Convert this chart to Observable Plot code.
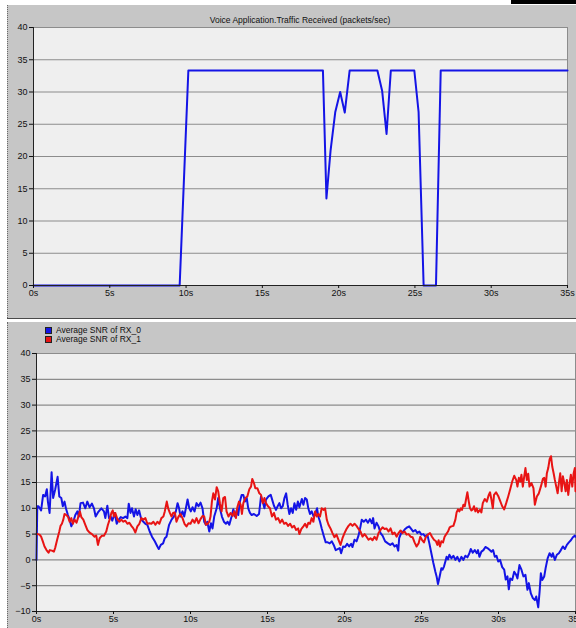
<!DOCTYPE html>
<html>
<head>
<meta charset="utf-8">
<script src="https://cdn.jsdelivr.net/npm/d3@7"></script>
<script src="https://cdn.jsdelivr.net/npm/@observablehq/plot@0.6"></script>
<style>
  html, body { margin: 0; padding: 0; background: #ffffff; }
  #wrap { position: relative; width: 576px; height: 628px; overflow: hidden; background: #ffffff; font-family: "Liberation Sans", Arial, sans-serif; }
  .panel { position: absolute; left: 7px; width: 569px; background: #c6c6c6; border-left: 1px dotted #6a6a6a; box-sizing: border-box; }
  .abs { position: absolute; }
  .title { position: absolute; top: 15px; left: 100px; width: 400px; text-align: center; font-size: 8.5px; color: #111; white-space: nowrap; }
  .leg { position: absolute; left: 45px; font-size: 8.5px; color: #111; white-space: nowrap; line-height: 8px; }
  .leg span.sw { display: inline-block; width: 5px; height: 5px; border: 1px solid #222; margin-right: 4px; vertical-align: -1px; }
</style>
</head>
<body>
<div id="wrap">
  <div class="panel" style="top:5px;height:313px;"></div>
  <div class="abs" style="left:7px;top:318px;width:569px;height:1px;background:#4a4a4a;"></div>
  <div class="abs" style="left:7px;top:320px;width:569px;height:2px;background:#ffffff;"></div>
  <div class="panel" style="top:322px;height:306px;"></div>
  <div class="abs" style="left:511px;top:0px;width:65px;height:4px;background:#000000;"></div>
  <div class="abs" id="top" style="left:0;top:0;"></div>
  <div class="abs" id="bottom" style="left:0;top:322px;"></div>
  <div class="title">Voice Application.Traffic Received (packets/sec)</div>
  <div class="leg" style="top:326px;"><span class="sw" style="background:#1414e6"></span>Average SNR of RX_0</div>
  <div class="leg" style="top:335px;"><span class="sw" style="background:#e81414"></span>Average SNR of RX_1</div>
</div>
<script>
// ---- data ----
const xTicks = [0, 5, 10, 15, 20, 25, 30, 35];
const yTicksTop = [0, 5, 10, 15, 20, 25, 30, 35, 40];
const yTicksBottom = [-10, -5, 0, 5, 10, 15, 20, 25, 30, 35, 40];

const seriesNames = ["Average SNR of RX_0", "Average SNR of RX_1"];

// Voice Application.Traffic Received (packets/sec): [time s, value]
const traffic = [
  [0, 0], [9.58, 0], [10.15, 33.33], [18.97, 33.33], [19.2, 13.5], [19.47, 20.9], [19.78, 26.9],
  [20.1, 30.0], [20.4, 26.8], [20.72, 33.33], [22.54, 33.33], [22.85, 30.2], [23.14, 23.5],
  [23.42, 33.33], [24.96, 33.33], [25.24, 26.9], [25.57, 0], [26.38, 0], [26.69, 33.33], [35, 33.33]
];

// Average SNR of RX_0: [time s, dB]
const rx0 = [
  [0,0],[0.05,10.4],[0.13,10.4],[0.3,9.6],[0.43,12.6],[0.56,12.3],[0.67,13.7],[0.74,11.3],[0.85,9.1],[0.98,17.0],[1.08,12.0],[1.21,13.6],[1.37,16.1],[1.48,12.3],[1.61,12.0],[1.71,10.4],[1.82,11.3],[1.91,10.0],[2.04,8.7],[2.15,7.8],[2.26,6.5],[2.39,7.4],[2.52,8.7],[2.65,9.4],[2.75,8.4],[2.86,11.0],[3.02,11.1],[3.17,10.0],[3.3,11.3],[3.45,10.2],[3.6,10.9],[3.73,10.0],[3.84,8.4],[3.99,9.2],[4.21,10.0],[4.38,9.4],[4.47,8.1],[4.6,10.5],[4.71,8.1],[4.82,8.4],[4.92,7.6],[5.08,9.1],[5.21,7.0],[5.34,7.8],[5.47,8.3],[5.62,8.1],[5.77,8.4],[5.9,8.1],[5.99,10.9],[6.1,9.1],[6.2,10.0],[6.33,8.4],[6.44,9.8],[6.55,8.7],[6.66,9.6],[6.81,7.8],[6.94,7.4],[7.07,7.0],[7.2,6.8],[7.35,5.5],[7.5,4.5],[7.68,3.6],[7.85,2.6],[7.94,2.1],[8.07,2.9],[8.22,3.2],[8.33,4.2],[8.44,4.5],
  [8.61,6.8],[8.77,7.8],[8.92,8.4],[9.05,9.4],[9.16,11.0],[9.26,10.0],[9.35,8.4],[9.48,9.4],[9.59,8.4],[9.7,10.0],[9.81,11.7],[9.92,10.0],[10.02,9.4],[10.13,10.2],[10.26,9.4],[10.39,11.0],[10.52,10.4],[10.65,11.1],[10.78,10.0],[10.89,7.4],[11.0,6.8],[11.09,7.4],[11.22,5.5],[11.33,7.1],[11.43,6.1],[11.54,8.4],[11.7,10.0],[11.8,12.0],[11.91,10.0],[12.04,8.4],[12.17,7.4],[12.3,7.0],[12.41,7.4],[12.52,6.8],[12.67,8.4],[12.78,9.8],[12.89,8.4],[13.0,9.6],[13.1,8.7],[13.21,11.3],[13.32,12.6],[13.43,12.6],[13.54,11.3],[13.65,12.0],[13.75,10.0],[13.86,9.1],[13.97,8.7],[14.12,8.9],[14.3,8.5],[14.45,8.9],[14.58,12.3],[14.69,11.3],[14.8,10.0],[14.9,11.7],[15.06,12.3],[15.21,12.6],[15.34,11.3],[15.42,10.5],[15.55,9.7],[15.66,10.4],[15.77,11.0],[15.88,10.0],[15.99,10.4],[16.1,12.0],[16.21,12.9],[16.31,10.7],[16.42,8.9],[16.53,10.0],[16.64,9.1],[16.75,11.0],[16.86,9.7],[16.97,11.3],[17.07,10.2],[17.23,11.8],
  [17.33,10.7],[17.44,12.0],[17.55,11.7],[17.65,10.0],[17.76,8.9],[17.87,9.4],[18.0,8.4],[18.13,9.2],[18.22,10.0],[18.3,8.4],[18.41,7.4],[18.52,6.1],[18.65,4.7],[18.78,3.4],[18.91,3.4],[19.04,3.2],[19.17,3.6],[19.3,2.9],[19.43,1.9],[19.56,2.1],[19.69,2.3],[19.78,1.3],[19.91,2.6],[20.04,2.5],[20.17,3.1],[20.3,2.6],[20.43,3.1],[20.52,2.5],[20.65,3.9],[20.78,3.6],[20.91,4.7],[21.04,6.5],[21.12,7.8],[21.25,7.4],[21.39,7.8],[21.52,7.2],[21.65,7.9],[21.78,7.1],[21.86,8.1],[21.95,6.1],[22.08,7.2],[22.21,6.5],[22.34,5.2],[22.47,4.7],[22.64,3.6],[22.82,3.2],[22.97,2.9],[23.12,3.2],[23.25,2.6],[23.38,2.9],[23.49,1.8],[23.55,4.2],[23.68,5.2],[23.81,5.5],[23.94,6.0],[24.07,6.3],[24.2,6.5],[24.33,6.0],[24.46,5.5],[24.6,5.8],[24.73,5.2],[24.86,5.5],[24.99,4.9],[25.12,5.0],[25.25,4.5],[25.38,4.9],[25.51,3.2],[25.64,1.3],[25.77,-0.6],[25.9,-2.3],[25.98,-3.2],[26.07,-4.7],
  [26.18,-3.2],[26.29,-1.6],[26.37,-1.9],[26.46,-1.3],[26.55,-0.3],[26.63,0.6],[26.72,0.1],[26.81,1.0],[26.94,0.3],[27.07,0.8],[27.2,0.0],[27.33,0.6],[27.46,-0.3],[27.59,0.6],[27.72,0.0],[27.85,0.8],[27.98,0.5],[28.11,1.3],[28.2,2.1],[28.33,1.4],[28.46,1.9],[28.59,1.3],[28.67,1.9],[28.76,0.6],[28.89,1.6],[29.02,1.9],[29.15,2.5],[29.28,2.3],[29.43,1.9],[29.54,1.6],[29.65,1.9],[29.76,0.6],[29.87,0.8],[29.98,-0.3],[30.1,0.0],[30.24,-1.4],[30.37,-1.9],[30.47,-3.8],[30.58,-3.2],[30.67,-5.7],[30.76,-3.6],[30.89,-3.9],[31.02,-2.3],[31.15,-2.9],[31.23,-3.6],[31.36,-1.0],[31.49,-1.9],[31.62,-3.2],[31.75,-2.9],[31.88,-5.8],[31.97,-4.5],[32.1,-6.5],[32.23,-7.4],[32.36,-7.8],[32.45,-7.1],[32.58,-9.2],[32.67,-6.1],[32.75,-2.6],[32.84,-3.9],[32.97,-3.2],[33.06,-1.6],[33.19,0.3],[33.32,1.3],[33.45,0.6],[33.53,1.3],[33.66,0.0],[33.79,1.0],[33.92,1.3],[34.05,1.9],[34.18,2.6],[34.31,2.1],[34.44,2.9],[34.57,3.4],[34.7,3.8],[34.83,4.4],[34.96,4.7],[35.0,4.5]
];

// Average SNR of RX_1: [time s, dB]
const rx1 = [
  [0,5.0],[0.04,5.0],[0.2,4.9],[0.3,4.5],[0.41,3.6],[0.52,2.6],[0.65,1.9],[0.78,1.4],[0.87,1.9],[1.0,1.8],[1.13,1.6],[1.21,2.3],[1.34,3.9],[1.48,5.5],[1.56,6.6],[1.65,7.0],[1.74,7.8],[1.82,8.9],[1.93,8.7],[2.04,8.4],[2.15,7.4],[2.26,8.1],[2.36,7.0],[2.47,7.8],[2.6,7.2],[2.69,8.1],[2.82,9.4],[2.91,8.3],[3.04,7.8],[3.17,6.8],[3.3,5.8],[3.45,5.3],[3.6,5.0],[3.77,4.5],[3.88,4.7],[3.99,2.9],[4.1,4.2],[4.25,4.7],[4.38,4.7],[4.53,5.5],[4.64,6.8],[4.75,7.8],[4.86,9.1],[4.95,9.6],[5.03,8.4],[5.12,9.1],[5.25,7.9],[5.38,7.4],[5.51,7.8],[5.64,7.4],[5.77,7.6],[5.9,7.0],[6.03,7.2],[6.16,6.6],[6.29,6.1],[6.42,5.3],[6.55,6.5],[6.68,7.0],[6.81,8.1],[6.94,7.8],[7.07,8.1],[7.2,7.0],[7.33,7.1],[7.46,7.0],[7.59,7.4],[7.72,6.8],[7.85,7.4],[7.98,7.0],[8.11,8.1],[8.24,8.4],[8.33,9.4],[8.46,11.3],
  [8.55,10.0],[8.66,9.1],[8.77,8.4],[8.87,9.1],[8.98,9.2],[9.09,7.4],[9.22,8.4],[9.35,8.9],[9.48,8.1],[9.61,7.0],[9.74,6.5],[9.87,7.1],[10.0,7.0],[10.13,7.8],[10.26,7.2],[10.39,8.1],[10.52,7.1],[10.65,7.9],[10.78,8.5],[10.89,8.4],[11.0,6.8],[11.11,7.0],[11.22,7.4],[11.3,8.4],[11.39,11.3],[11.48,12.9],[11.59,11.7],[11.7,14.1],[11.8,13.3],[11.91,11.0],[12.02,9.4],[12.13,12.0],[12.24,12.2],[12.34,9.4],[12.47,8.4],[12.6,9.1],[12.74,8.5],[12.84,9.4],[12.95,8.1],[13.04,10.2],[13.15,11.3],[13.26,10.7],[13.34,8.9],[13.43,11.0],[13.56,12.0],[13.69,12.3],[13.82,13.7],[13.93,14.2],[14.01,15.7],[14.12,14.9],[14.21,13.9],[14.34,13.9],[14.47,12.9],[14.58,12.6],[14.69,11.0],[14.8,12.0],[14.9,11.0],[15.03,10.4],[15.16,10.0],[15.29,8.4],[15.42,9.1],[15.55,7.8],[15.69,8.1],[15.82,7.2],[15.95,7.8],[16.08,7.0],[16.21,7.2],[16.34,6.6],[16.47,7.0],[16.6,6.3],[16.73,6.6],[16.86,5.8],[16.99,6.1],[17.07,5.0],[17.2,6.0],[17.33,6.5],
  [17.44,7.0],[17.55,6.3],[17.65,7.2],[17.76,7.0],[17.87,8.1],[17.98,7.4],[18.09,9.4],[18.2,8.4],[18.3,8.9],[18.41,8.4],[18.52,10.0],[18.65,9.7],[18.74,10.0],[18.85,7.8],[18.96,6.8],[19.09,6.1],[19.22,5.2],[19.35,4.4],[19.48,4.9],[19.61,3.9],[19.74,2.9],[19.87,4.2],[20.0,5.2],[20.13,6.0],[20.26,6.6],[20.39,7.0],[20.52,6.6],[20.65,7.0],[20.78,6.6],[20.91,6.0],[21.04,5.5],[21.17,4.5],[21.3,5.0],[21.43,4.5],[21.56,3.9],[21.69,4.2],[21.82,3.8],[21.95,4.5],[22.08,3.9],[22.21,5.2],[22.34,5.8],[22.47,6.3],[22.6,6.0],[22.73,6.1],[22.86,5.5],[22.99,6.1],[23.12,5.0],[23.25,5.3],[23.38,4.5],[23.51,5.2],[23.64,5.7],[23.77,5.2],[23.9,5.5],[24.03,4.9],[24.16,5.0],[24.29,4.5],[24.42,4.4],[24.55,3.4],[24.68,2.6],[24.81,3.2],[24.92,4.5],[25.03,3.9],[25.16,3.4],[25.29,4.5],[25.42,4.9],[25.55,5.2],[25.68,4.5],[25.81,3.9],[25.94,3.6],[26.03,2.9],[26.11,3.8],[26.2,2.6],
  [26.29,3.6],[26.4,3.4],[26.5,4.5],[26.61,5.0],[26.72,5.5],[26.83,6.3],[26.94,6.5],[27.07,6.6],[27.2,7.8],[27.28,9.2],[27.37,9.8],[27.46,9.4],[27.55,10.0],[27.63,9.7],[27.72,10.7],[27.81,10.4],[27.89,11.7],[27.98,13.1],[28.07,11.3],[28.15,10.0],[28.24,9.6],[28.33,9.8],[28.41,10.4],[28.5,9.4],[28.59,10.0],[28.67,9.2],[28.8,9.7],[28.89,9.2],[28.98,11.0],[29.11,11.8],[29.24,11.3],[29.37,12.6],[29.45,13.1],[29.54,11.7],[29.63,10.0],[29.71,12.6],[29.84,13.1],[29.98,12.4],[30.1,11.5],[30.24,10.4],[30.37,9.8],[30.5,11.0],[30.63,12.3],[30.76,13.7],[30.89,15.2],[31.02,16.3],[31.15,15.5],[31.23,14.2],[31.32,15.9],[31.41,15.2],[31.49,16.5],[31.58,14.2],[31.67,16.2],[31.75,17.8],[31.84,15.5],[31.93,16.7],[32.01,14.2],[32.14,14.9],[32.27,13.9],[32.36,10.7],[32.49,12.3],[32.62,12.9],[32.75,14.2],[32.88,15.7],[32.97,15.9],[33.06,14.2],[33.14,16.8],[33.23,17.8],[33.32,19.5],[33.41,20.1],[33.49,18.1],[33.58,16.8],[33.66,15.5],[33.75,14.2],[33.84,12.9],[33.92,14.9],[34.01,16.8],[34.1,13.3],[34.18,16.2],[34.27,14.9],[34.36,13.3],[34.44,15.5],[34.53,12.6],[34.62,14.9],[34.7,16.5],[34.79,14.2],[34.88,16.8],[34.96,17.8],[35.0,13.3]
];

const seriesColors = ["#1414e6", "#e81414"];

// ---- build ----
const axisStyle = {background: "transparent", fontFamily: "Liberation Sans, Arial, sans-serif", fontSize: "9px", color: "#111", overflow: "visible"};
const fmtS = d => d + "s";

const topChart = Plot.plot({
  width: 576, height: 316,
  marginLeft: 33, marginRight: 9, marginTop: 27, marginBottom: 31,
  style: axisStyle,
  x: {domain: [0, 35]},
  y: {domain: [0, 40]},
  marks: [
    Plot.frame({fill: "#efefef", stroke: "#8c8c8c"}),
    Plot.ruleY(yTicksTop, {stroke: "#8c8c8c", strokeWidth: 1.2}),
    Plot.line(traffic, {x: d => d[0], y: d => d[1], stroke: seriesColors[0], strokeWidth: 2}),
    Plot.ruleX([0], {stroke: "#222"}),
    Plot.ruleY([0], {stroke: "#222"}),
    Plot.axisX({ticks: xTicks, tickFormat: fmtS, tickSize: 3, tickPadding: 1, label: null}),
    Plot.axisY({ticks: yTicksTop, tickSize: 4, tickPadding: 2, label: null})
  ]
});
document.getElementById("top").appendChild(topChart);

const snr = [
  ...rx0.map(d => ({t: d[0], v: d[1], s: seriesNames[0]})),
  ...rx1.map(d => ({t: d[0], v: d[1], s: seriesNames[1]}))
];

const bottomChart = Plot.plot({
  width: 576, height: 306,
  marginLeft: 36, marginRight: 1, marginTop: 31, marginBottom: 17,
  style: axisStyle,
  x: {domain: [0, 35]},
  y: {domain: [-10, 40]},
  color: {domain: seriesNames, range: seriesColors},
  marks: [
    Plot.frame({fill: "#efefef", stroke: "#8c8c8c"}),
    Plot.ruleY(yTicksBottom, {stroke: "#8c8c8c", strokeWidth: 1.2}),
    Plot.line(snr, {x: "t", y: "v", z: "s", stroke: "s", strokeWidth: 2}),
    Plot.ruleX([0], {stroke: "#222"}),
    Plot.ruleY([-10], {stroke: "#222"}),
    Plot.axisX({ticks: xTicks, tickFormat: fmtS, tickSize: 3, tickPadding: 1, label: null}),
    Plot.axisY({ticks: yTicksBottom, tickSize: 4, tickPadding: 2, label: null})
  ]
});
document.getElementById("bottom").appendChild(bottomChart);
</script>
</body>
</html>
